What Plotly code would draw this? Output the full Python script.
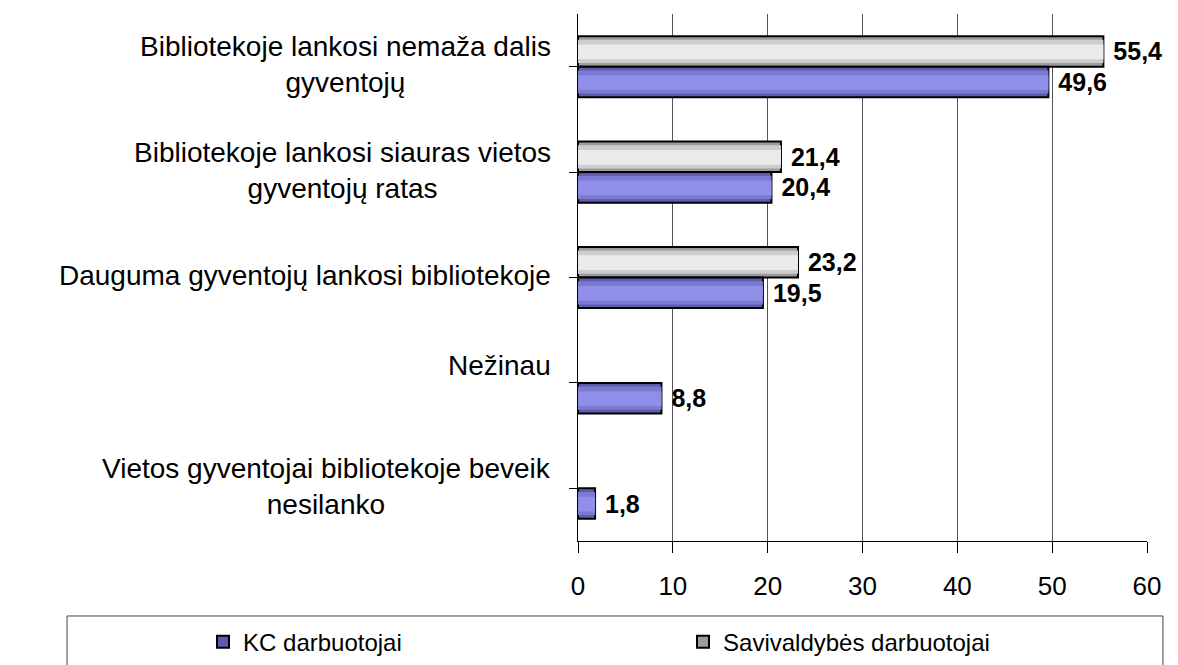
import plotly.graph_objects as go

categories = [
    "Bibliotekoje lankosi nemaža dalis\ngyventojų",
    "Bibliotekoje lankosi siauras vietos\ngyventojų ratas",
    "Dauguma gyventojų lankosi bibliotekoje",
    "Nežinau",
    "Vietos gyventojai bibliotekoje beveik\nnesilanko",
]
kc_values = [49.6, 20.4, 19.5, 8.8, 1.8]
sav_values = [55.4, 21.4, 23.2, None, None]
series_names = ["KC darbuotojai", "Savivaldybės darbuotojai"]
x_ticks = [0, 10, 20, 30, 40, 50, 60]

FONT = "Liberation Sans, Arial, sans-serif"
pos = list(range(len(categories)))
W = 0.29


def fmt(v):
    return "" if v is None else "\u00a0" + f"{v:.1f}".replace(".", ",")


fig = go.Figure()


def add_series(vals, off, colors, name):
    fig.add_trace(go.Bar(
        x=vals, y=pos, orientation="h", name=name,
        offset=off, width=W,
        marker=dict(color=colors[0], line=dict(color="black", width=2)),
        text=[fmt(v) for v in vals], textposition="outside",
        constraintext="none",
        textfont=dict(family=FONT, size=25, color="black", weight="bold"),
        cliponaxis=False, showlegend=True, hoverinfo="skip",
    ))
    fig.add_trace(go.Bar(
        x=vals, y=pos, orientation="h", offset=off + 0.035, width=W - 0.07,
        marker=dict(color=colors[1], line=dict(width=0)),
        showlegend=False, hoverinfo="skip",
    ))
    fig.add_trace(go.Bar(
        x=vals, y=pos, orientation="h", offset=off + 0.08, width=W - 0.15,
        marker=dict(color=colors[2], line=dict(width=0)),
        showlegend=False, hoverinfo="skip",
    ))


add_series(sav_values, -W, ["#9c9c9c", "#cdcdcd", "#ebebeb"], series_names[1])
add_series(kc_values, 0.0, ["#5c5cae", "#7a7ad0", "#8f8fea"], series_names[0])

annotations = []
for i, lab in enumerate(categories):
    shift = 17 if lab == "Nežinau" else 2
    annotations.append(dict(
        x=-0.044, xref="paper", y=i, yref="y", yshift=shift,
        text=lab.replace("\n", "<br>"), showarrow=False,
        xanchor="right", yanchor="middle", align="center",
        font=dict(family=FONT, size=28, color="black"),
    ))

fig.update_layout(
    width=1170, height=657,
    margin=dict(l=570, r=31, t=6, b=124, autoexpand=False),
    paper_bgcolor="white", plot_bgcolor="white",
    barmode="overlay",
    font=dict(family=FONT, size=20, color="black"),
    xaxis=dict(
        range=[0, 60], tickvals=x_ticks, ticktext=[str(t) for t in x_ticks],
        showgrid=True, gridcolor="#555555", gridwidth=1,
        showline=True, linecolor="black", linewidth=1,
        ticks="outside", ticklen=11, tickcolor="black",
        ticklabelstandoff=11,
        tickfont=dict(family=FONT, size=26), zeroline=False,
    ),
    yaxis=dict(
        range=[4.5, -0.5], tickmode="array", tickvals=pos, ticktext=[""] * 5,
        tickson="boundaries", ticks="outside", ticklen=8, tickcolor="black",
        showline=True, linecolor="black", linewidth=1, showgrid=False,
        zeroline=False,
    ),
    legend=dict(
        orientation="h", x=-0.659, y=-0.1917, xanchor="left", yanchor="middle",
        entrywidth=435, entrywidthmode="pixels", traceorder="reversed",
        font=dict(family=FONT, size=24, color="black"),
        bgcolor="rgba(0,0,0,0)",
    ),
    annotations=annotations,
    shapes=[dict(
        type="rect", xref="paper", yref="paper",
        x0=-0.898, x1=1.028, y0=-0.1423, y1=-0.3,
        line=dict(color="#444444", width=1), fillcolor="rgba(0,0,0,0)",
        layer="below",
    )],
    showlegend=True,
)

fig.write_html("out.html")
